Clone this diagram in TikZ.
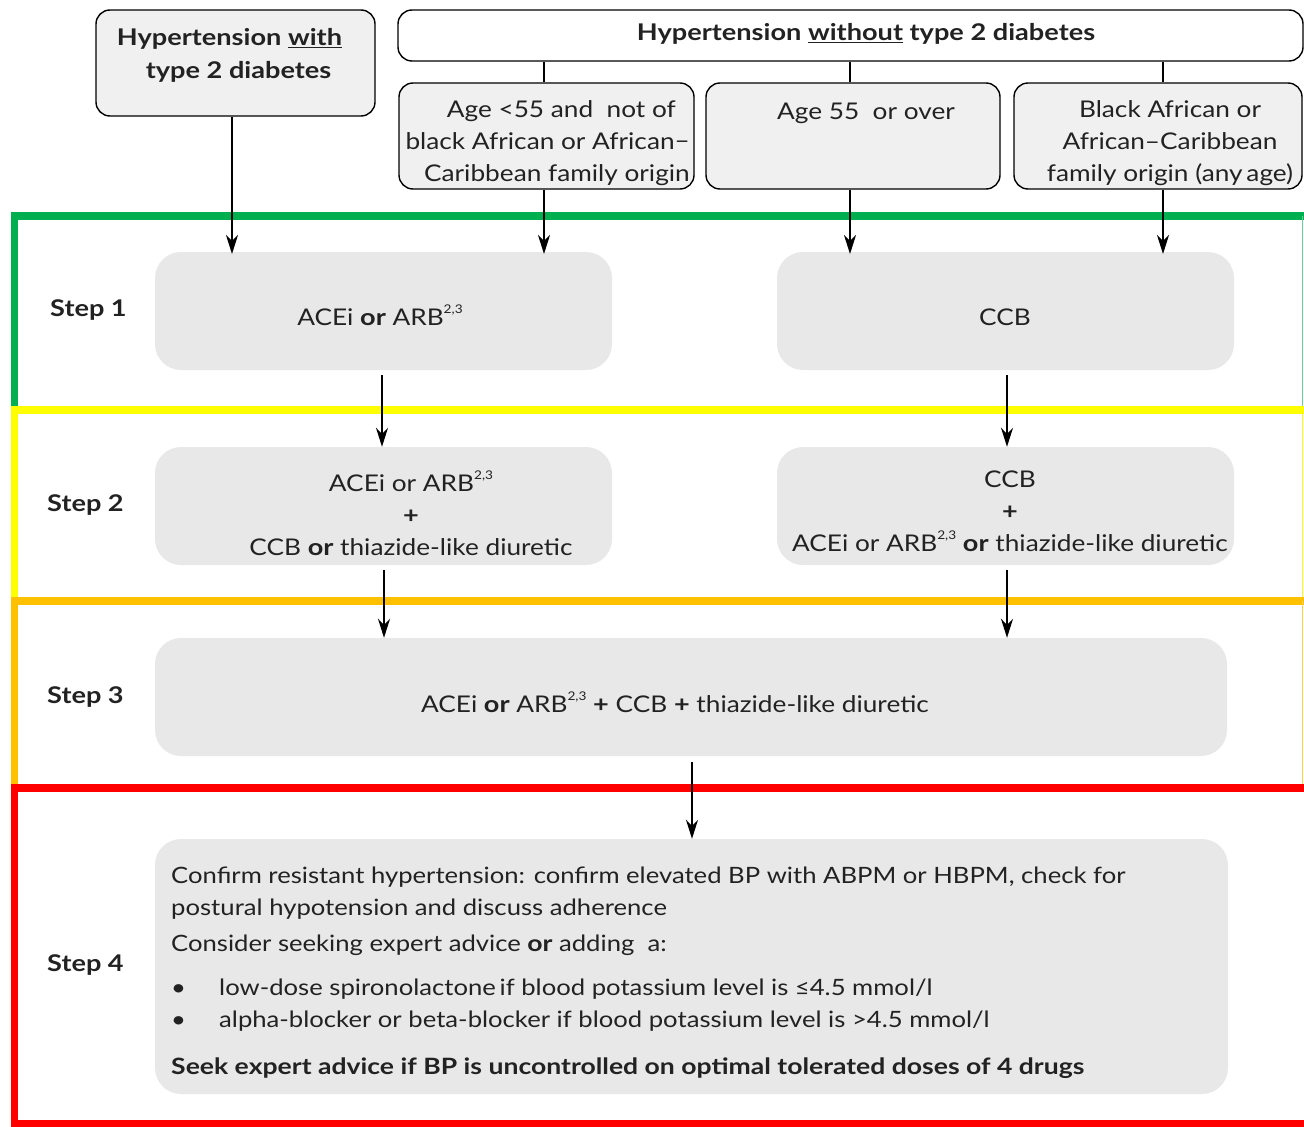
\documentclass[tikz,border=0pt]{standalone}
\usepackage{fontspec}
\setmainfont{Lato}[FakeStretch=1.14, BoldFeatures={FakeStretch=1.18}]
\usetikzlibrary{arrows.meta}
\definecolor{txt}{HTML}{222222}
\definecolor{stepfill}{HTML}{E8E8E8}
\definecolor{topfill}{HTML}{F0F0F0}
\definecolor{bgreen}{HTML}{00B050}
\definecolor{byellow}{HTML}{FFFF00}
\definecolor{borange}{HTML}{FFC000}
\definecolor{bred}{HTML}{FF0000}
\newcommand{\refsup}[1]{\raisebox{0.5em}{\fontsize{12}{12}\selectfont #1}}
\tikzset{
  topbox/.style={draw=black, line width=1.4pt, rounded corners=14pt, fill=topfill, inner sep=0pt},
  stepbox/.style={fill=stepfill, rounded corners=26pt, inner sep=0pt},
  lbl/.style={text=txt, font=\fontsize{23}{32}\selectfont, align=center, inner sep=0pt},
  blbl/.style={text=txt, font=\fontsize{23}{33}\selectfont\bfseries, align=center, inner sep=0pt},
  steplbl/.style={text=txt, font=\fontsize{23}{28}\selectfont\bfseries, inner sep=0pt},
  line4/.style={text=txt, font=\fontsize{22.5}{32}\selectfont, anchor=base west, inner sep=0pt},
  conn/.style={line width=1.9pt, black},
  arr/.style={conn, -{Stealth[length=19pt,width=12pt,inset=6pt]}},
  band/.style={line width=7.5pt},
  bandedge/.style={line width=0.7pt},
}
\begin{document}
\begin{tikzpicture}[x=1pt,y=-1pt]
\useasboundingbox (0,0) rectangle (1304,1127);
% colour bands
\draw[band, bgreen] (14.5,216) rectangle (1340,410);
\draw[bandedge, bgreen!60] (1302,216) -- (1302,410);
\draw[band, byellow] (14.5,410) rectangle (1340,601);
\draw[bandedge, byellow] (1302,410) -- (1302,601);
\draw[band, borange] (14.5,601) rectangle (1340,788);
\draw[bandedge, borange!70] (1302,601) -- (1302,788);
\draw[band, bred] (14.5,788) rectangle (1340,1124);

% top boxes
\node[topbox, minimum width=279pt, minimum height=106pt] (withd) at (235.5,63) {};
\node[blbl] (withdt) at (229.5,55) {Hypertension \underline{with}\\\hspace*{18pt}type 2 diabetes};
\node[topbox, fill=white, minimum width=905pt, minimum height=51pt] (without) at (850.5,35.5) {};
\node[blbl] (withoutt) at (866,34) {Hypertension \underline{without} type 2 diabetes};

\node[topbox, minimum width=295pt, minimum height=106pt] (young) at (546.5,136) {};
\node[lbl, align=right, anchor=east] (youngt) at (690,143) {Age <55 and\ \ not of\hspace*{14pt}\\black African or African\raisebox{1pt}{–}\\Caribbean family origin};
\node[topbox, minimum width=294pt, minimum height=106pt] (old) at (853,136) {};
\node[lbl, anchor=base] (oldt) at (866,119) {Age 55\ \ or over};
\node[topbox, minimum width=288pt, minimum height=106pt] (black) at (1158,136) {};
\node[lbl] (blackt) at (1170,143) {Black African or\\African–Caribbean\\family origin (any\,age)};

\draw[conn] (without.south -| 544,0) -- (young.north -| 544,0);
\draw[conn] (without.south -| 850,0) -- (old.north -| 850,0);
\draw[conn] (without.south -| 1163,0) -- (black.north -| 1163,0);

% step boxes
\node[stepbox, minimum width=457pt, minimum height=118pt] (s1l) at (383.5,311) {};
\node[lbl, anchor=base] (s1lt) at (380,325) {ACEi \textbf{or} ARB\refsup{2,3}};
\node[stepbox, minimum width=457pt, minimum height=118pt] (s1r) at (1005.5,311) {};
\node[lbl, anchor=base] (s1rt) at (1005,325) {CCB};

\node[stepbox, minimum width=457pt, minimum height=118pt] (s2l) at (383.5,506) {};
\node[lbl] (s2lt) at (411,513) {ACEi or ARB\refsup{2,3}\\\textbf{+}\\CCB \textbf{or} thiazide-like diuretic};
\node[stepbox, minimum width=457pt, minimum height=118pt] (s2r) at (1005.5,506) {};
\node[lbl] (s2rt) at (1010,511) {CCB\\\textbf{+}\\ACEi or ARB\refsup{2,3} \textbf{or} thiazide-like diuretic};

\node[stepbox, minimum width=1072pt, minimum height=118pt] (s3) at (691,697) {};
\node[lbl, anchor=base] (s3t) at (675,712) {ACEi \textbf{or} ARB\refsup{2,3} \textbf{+} CCB \textbf{+} thiazide-like diuretic};

\node[stepbox, minimum width=1073pt, minimum height=255pt] (s4) at (691.5,966.5) {};
\node[line4] (l1) at (171,883) {Confirm resistant hypertension: confirm elevated BP with ABPM or HBPM, check for};
\node[line4] (l2) at (171,915) {postural hypotension and discuss adherence};
\node[line4] (l3) at (171,951) {Consider seeking expert advice \textbf{or} adding\ \ a:};
\node[line4] (b1) at (171,995) {•};
\node[line4] (l4) at (219,995) {low-dose spironolactone\,if blood potassium level is ≤4.5 mmol/l};
\node[line4] (b2) at (171,1027) {•};
\node[line4] (l5) at (219,1027) {alpha-blocker or beta-blocker if blood potassium level is >4.5 mmol/l};
\node[line4, font=\fontsize{22.5}{32}\selectfont\bfseries] (l6) at (171,1074) {Seek expert advice if BP is uncontrolled on optimal tolerated doses of 4 drugs};

% step labels
\node[steplbl, anchor=base west] (st1) at (50,316) {Step 1};
\node[steplbl, anchor=base west] (st2) at (47,511) {Step 2};
\node[steplbl, anchor=base west] (st3) at (47,703) {Step 3};
\node[steplbl, anchor=base west] (st4) at (47,971) {Step 4};

% arrows
\draw[arr] (withd.south -| 232,0) -- (232,254);
\draw[arr] (young.south -| 544,0) -- (544,254);
\draw[arr] (old.south -| 850,0) -- (850,254);
\draw[arr] (black.south -| 1163,0) -- (1163,254);
\draw[arr] (382,375) -- (s2l.north -| 382,0);
\draw[arr] (1007,375) -- (s2r.north -| 1007,0);
\draw[arr] (384,570) -- (s3.north -| 384,0);
\draw[arr] (1007,570) -- (s3.north -| 1007,0);
\draw[arr] (692,762) -- (s4.north -| 692,0);
\end{tikzpicture}
\end{document}
